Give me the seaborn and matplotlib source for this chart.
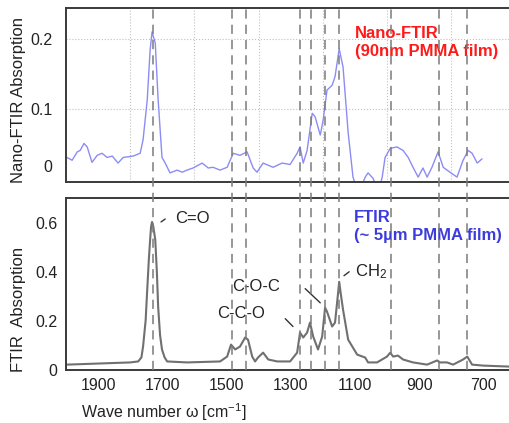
import matplotlib
matplotlib.use("Agg")
import matplotlib.pyplot as plt
import matplotlib.transforms as mtransforms
from matplotlib.lines import Line2D
import seaborn as sns

# ---- data ----
# nano-FTIR (top panel), wavenumber [cm-1] and absorption
nano_wn = [1997, 1981, 1965, 1956, 1944, 1934, 1919, 1903, 1888, 1872, 1856, 1838,
           1822, 1791, 1769, 1760, 1747, 1738, 1732, 1722, 1713, 1701, 1691, 1676,
           1654, 1638, 1623, 1604, 1576, 1557, 1542, 1520, 1498, 1479, 1458, 1436,
           1417, 1405, 1386, 1355, 1327, 1302, 1280, 1271, 1261, 1249, 1233, 1224,
           1208, 1199, 1187, 1171, 1162, 1149, 1137, 1121, 1106, 1090, 1075, 1068,
           1059, 1043, 1028, 1015, 1006, 990, 969, 950, 934, 919, 903, 888,
           875, 860, 841, 825, 804, 782, 763, 747, 735, 719, 704]
nano_abs = [0.031, 0.027, 0.039, 0.041, 0.051, 0.046, 0.024, 0.034, 0.037, 0.031, 0.033, 0.023,
            0.031, 0.033, 0.037, 0.056, 0.113, 0.184, 0.210, 0.194, 0.113, 0.031, 0.023, 0.009,
            0.013, 0.010, 0.013, 0.016, 0.023, 0.016, 0.017, 0.013, 0.017, 0.037, 0.034, 0.039,
            0.016, 0.010, 0.023, 0.017, 0.023, 0.021, 0.037, 0.046, 0.023, 0.041, 0.094, 0.089,
            0.063, 0.084, 0.127, 0.134, 0.146, 0.186, 0.160, 0.066, 0.003, -0.02, -0.005, 0.003,
            0.009, 0.001, -0.02, 0.003, 0.031, 0.044, 0.046, 0.041, 0.031, 0.017, 0.003, 0.016,
            0.003, 0.017, 0.039, 0.017, 0.010, 0.003, 0.027, 0.041, 0.037, 0.023, 0.029]

# FTIR (bottom panel)
ftir_wn = [1997, 1800, 1775, 1765, 1760, 1752, 1747, 1742, 1738, 1735, 1732, 1728,
           1722, 1717, 1713, 1707, 1701, 1693, 1685, 1623,
           1520, 1498, 1486, 1473, 1458, 1442, 1433, 1420, 1411, 1402, 1386, 1370,
           1342, 1302, 1280, 1271, 1261, 1249, 1240, 1230, 1215, 1202, 1193, 1187,
           1171, 1162, 1155, 1149, 1143, 1137, 1121, 1093, 1068, 1059, 1031, 1000, 990, 981,
           966, 950, 919, 875, 844, 835, 813, 794, 763, 750, 735, 700, 620]
ftir_abs = [0.020, 0.029, 0.033, 0.050, 0.094, 0.200, 0.327, 0.450, 0.531, 0.585, 0.604, 0.585,
            0.531, 0.400, 0.257, 0.140, 0.082, 0.050, 0.033, 0.029,
            0.033, 0.053, 0.102, 0.082, 0.094, 0.131, 0.122, 0.053, 0.033, 0.049, 0.069, 0.041,
            0.033, 0.033, 0.069, 0.151, 0.131, 0.151, 0.192, 0.135, 0.082, 0.135, 0.253, 0.237,
            0.176, 0.192, 0.280, 0.359, 0.300, 0.245, 0.122, 0.061, 0.049, 0.029, 0.029, 0.053, 0.069, 0.053,
            0.057, 0.041, 0.029, 0.020, 0.037, 0.029, 0.029, 0.020, 0.041, 0.053, 0.020, 0.016, 0.012]

# band positions marked by dashed lines
bands = [1730, 1483, 1439, 1271, 1237, 1193, 1149, 987, 838, 750]

bottom_xticks = [1900, 1700, 1500, 1300, 1100, 900, 700]
bottom_minor = [1800, 1600, 1400, 1200, 1000, 800]
top_grid_x = [1800, 1600, 1400, 1200, 1000, 800]

# ---- style ----
sns.set_style("white")
plt.rcParams['font.family'] = ['Liberation Sans', 'DejaVu Sans']
plt.rcParams['mathtext.default'] = 'regular'

fig = plt.figure(figsize=(5.09, 4.23), dpi=100)
ax1 = fig.add_axes([0.1297, 0.5697, 0.8703, 0.4113])
ax2 = fig.add_axes([0.1297, 0.1253, 0.8703, 0.4066])

spine_col = "#3a3a3a"
for ax in (ax1, ax2):
    ax.set_xlim(2000, 620)
    ax.spines['right'].set_visible(False)
    for s in ('left', 'top', 'bottom'):
        ax.spines[s].set_color(spine_col)
        ax.spines[s].set_linewidth(1.4)

# top: nano-FTIR
sns.lineplot(x=nano_wn, y=nano_abs, ax=ax1, color="#8c8cf5", lw=1.0)
ax1.set_ylim(-0.004, 0.244)
ax1.set_xticks(top_grid_x)
ax1.set_xticklabels([])
ax1.set_yticks([0.1, 0.2])
ax1.set_yticklabels(['0.1', '0.2'])
ax1.set_yticks([0.019], minor=True)
ax1.set_yticklabels(['0'], minor=True)
ax1.tick_params(which='both', length=0, labelsize=11.5, pad=10, labelcolor="#222222")
ax1.grid(True, which='major', linestyle=':', color="#c0c0c0", lw=0.8)
ax1.set_ylabel("Nano-FTIR Absorption", fontsize=12, color="#222222")
ax1.yaxis.set_label_coords(-0.09, 0.47)
ax1.text(1100, 0.195, "Nano-FTIR\n(90nm PMMA film)", color="#ff1a1a", fontsize=12,
         fontweight='bold', ha='left', va='center', linespacing=1.25)

# bottom: FTIR
sns.lineplot(x=ftir_wn, y=ftir_abs, ax=ax2, color="#707070", lw=1.5)
ax2.set_ylim(-0.002, 0.702)
ax2.set_yticks([0, 0.2, 0.4, 0.6])
ax2.set_yticklabels(['0', '0.2', '0.4', '0.6'])
ax2.set_xticks(bottom_xticks)
ax2.set_xticklabels([str(v) for v in bottom_xticks])
ax2.set_xticks(bottom_minor, minor=True)
ax2.tick_params(which='both', direction='in', length=4, width=1, color=spine_col,
                labelsize=11.5, labelcolor="#222222", pad=6)
ax2.set_ylabel("FTIR  Absorption", fontsize=12, color="#222222")
ax2.yaxis.set_label_coords(-0.09, 0.35)
ax2.set_xlabel("Wave number ω [cm$^{-1}$]", fontsize=11.5, color="#222222")
ax2.xaxis.set_label_coords(0.22, -0.18)
ax2.text(1103, 0.584, "FTIR\n(~ 5µm PMMA film)", color="#3c3cdc", fontsize=12,
         fontweight='bold', ha='left', va='center', linespacing=1.25)

# peak labels with short leader lines
ax2.text(1660, 0.62, "C=O", fontsize=12, ha='left', va='center', color="#222222")
ax2.annotate("", xy=(1704, 0.604), xytext=(1691, 0.616),
             arrowprops=dict(arrowstyle='-', color="#333333", lw=1, shrinkA=0, shrinkB=0))
ax2.text(1455, 0.229, "C-C-O", fontsize=12, ha='center', va='center', color="#222222")
ax2.annotate("", xy=(1293, 0.176), xytext=(1317, 0.208),
             arrowprops=dict(arrowstyle='-', color="#333333", lw=1, shrinkA=0, shrinkB=0))
ax2.text(1408, 0.339, "C-O-C", fontsize=12, ha='center', va='center', color="#222222")
ax2.annotate("", xy=(1208, 0.273), xytext=(1255, 0.331),
             arrowprops=dict(arrowstyle='-', color="#333333", lw=1, shrinkA=0, shrinkB=0))
ax2.text(1099, 0.40, "CH$_2$", fontsize=12, ha='left', va='center', color="#222222")
ax2.annotate("", xy=(1134, 0.384), xytext=(1118, 0.40),
             arrowprops=dict(arrowstyle='-', color="#333333", lw=1, shrinkA=0, shrinkB=0))

# dashed band lines running through both panels
trans = mtransforms.blended_transform_factory(ax2.transData, fig.transFigure)
for b in bands:
    fig.add_artist(Line2D([b, b], [0.1253, 0.981], transform=trans, color="#7a7a7a",
                          lw=1.1, linestyle=(0, (6, 4)), zorder=3))

fig.savefig("out.png", dpi=100)
